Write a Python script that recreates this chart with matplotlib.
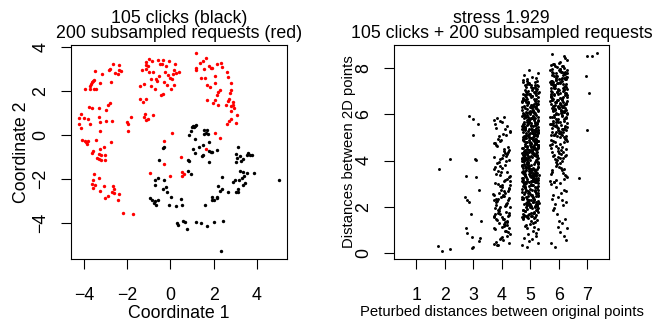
import numpy as np
import matplotlib.pyplot as plt

plt.rcParams['font.family'] = ['Liberation Sans', 'DejaVu Sans']

# ---- left panel: 2D coordinates ----
red_x = [-2.66, -2.36, -2.81, -2.84, -3.47, -2.39, -2.30, -2.56, -2.41, -3.15, -3.52, -3.58, -3.64, -3.69, -3.70,
         -3.27, -2.76, -3.95, -3.72, -3.54, -3.43,
         -0.99, -1.11, -1.11, -1.02, -1.30, -1.14, -1.00, -1.39, -1.24,
         -2.81, -2.87, -3.00, -3.32, -3.77, -3.61, -4.11, -4.21, -3.98, -3.80, -3.71, -3.31, -3.24, -2.96, -2.70,
         -4.21, -4.15, -3.27, -1.99, -1.96, -1.80, -1.96, -1.39, -1.14, -1.26, -1.18, -1.23, -1.11, -1.03,
         -4.07, -3.97, -3.89, -3.81, -3.86, -3.43, -2.75, -3.58, -3.63, -3.27, -3.07, -3.30, -3.20, -3.04, -3.38,
         -3.30, -3.20, -3.04, -3.54, -3.30, -3.56, -3.63, -3.50, -3.58, -3.27, -3.09, -2.66, -2.61, -2.72, -2.62,
         -2.39, -2.89, -3.02, -2.44, -2.19, -1.73, -0.96,
         -0.83, -0.57, -0.34, -0.08, -0.50, -0.40, -0.19, 0.23, 0.17, 0.40, -0.80, -0.26, -0.11, 0.12, 0.27,
         0.06, -0.03, -0.52, -0.91, -0.62, -0.31, -0.65, -0.88, -0.73, -0.15, 0.15, 0.03, -0.34, -0.42,
         1.17, 1.16, 1.16, 1.36, 1.51, 1.63, 1.54, 1.79, 1.87, 1.94, 2.13, 2.33, 2.36, 2.08, 1.40, 1.59, 2.59,
         2.64, 2.05, 1.71, 1.82, 2.78, 2.31, 2.20, 2.13, 2.82, 2.75, 2.07, 1.71, 1.98, 2.20, 2.70, 2.67, 2.87,
         2.90, 2.56, 2.82, 2.93,
         -0.80, 2.78, 3.08, 2.79, 2.71, 2.59, 3.02, 0.05, 2.07, 2.31, -0.31, -0.29, 0.48, 1.62, -0.03, 0.52,
         0.62, 0.53]
red_y = [3.24, 3.20, 3.00, 2.94, 2.92, 2.97, 2.92, 2.80, 2.76, 2.76, 2.51, 2.45, 2.39, 2.33, 2.24,
         2.36, 2.39, 2.09, 2.09, 2.09, 2.08,
         3.45, 3.30, 3.18, 3.12, 2.97, 3.00, 2.85, 2.24, 2.33,
         1.45, 1.35, 1.12, 1.24, 1.26, 1.21, 0.97, 0.77, 0.76, 0.73, 0.51, 0.82, 0.61, 0.64, 0.65,
         0.51, 0.30, 0.18, 0.58, 0.49, 0.82, 0.20, 1.64, 1.64, 1.50, 0.94, 0.82, 0.70, 0.73,
         -0.25, -0.29, -0.34, -0.26, -0.40, -0.23, -0.30, -0.74, -0.82, -0.62, -0.55, -0.85, -0.91, -0.90, -1.05,
         -1.09, -1.12, -1.15, -1.76, -1.94, -2.06, -2.23, -2.27, -2.41, -2.55, -2.32, -2.33, -2.44, -2.59, -2.64,
         -2.67, -2.79, -2.86, -2.94, -3.55, -3.58, -1.71,
         3.39, 3.42, 3.42, 3.39, 3.23, 3.23, 3.12, 3.24, 2.94, 2.86, 2.88, 2.88, 2.74, 2.78, 2.82,
         2.56, 2.59, 2.70, 2.54, 2.44, 2.39, 2.54, 2.21, 2.09, 2.29, 2.26, 2.11, 1.86, 1.80,
         3.75, 3.04, 2.94, 3.27, 3.39, 3.50, 3.01, 3.15, 3.07, 3.03, 3.21, 3.27, 3.09, 2.67, 2.59, 2.61, 2.85,
         2.64, 2.36, 2.26, 2.17, 2.36, 2.06, 1.94, 1.83, 2.06, 1.91, 1.60, 1.60, 1.45, 1.38, 1.64, 1.53, 1.50,
         1.38, 1.38, 1.30, 1.22,
         0.89, 1.07, 0.92, 0.73, 0.62, 0.48, 0.54, 0.09, 0.09, -0.13, -0.29, -1.30, -0.99, -0.65, -1.85, -1.70,
         -1.77, -1.86]

black_x = [1.02, 1.12, 1.17, 0.99, 1.08, 0.85, 0.93, 1.12, 1.54, 1.70, 1.56, 1.63, 1.74, 1.51, 1.76, 1.87,
           1.79, 1.94, 2.13, 1.33, 1.05, 1.12, 1.51, 1.48, 1.79, 0.80, 0.86, -0.31, -0.34, -0.54, 0.82, 0.94, 2.36,
           3.13, 3.02, 3.21, 3.08, 3.05, 3.36, 3.25, 3.59, 3.67, 3.75, 3.55, 3.22, 3.33, 3.39, 3.52, 3.29,
           3.18, 3.44, 3.33, 3.10, 3.02, 3.13, 2.99, 2.87, 2.67, 3.87, 5.00,
           -0.57, -0.70, -0.29, -0.70, -0.34, -0.19, -0.16, 0.01, -0.96, -0.85, -0.70, -0.57, -0.65, -0.77,
           -0.06, 0.24, 0.48, 0.54, 1.59, 1.94, 1.91, 2.00, 2.13, 2.17, 2.20, 2.30, 2.36,
           0.31, 0.35, 0.59, 0.69, 0.77, 1.20, 1.40, 1.70, 2.02, 2.44, 2.33]
black_y = [0.39, 0.43, 0.47, 0.35, 0.36, 0.01, 0.17, -0.17, 0.21, 0.21, 0.06, 0.09, 0.06, -0.47, -0.33, -0.79,
           -0.74, -0.79, -0.70, -0.55, -0.62, -0.82, -0.90, -0.97, -1.24, -1.12, -1.20, -0.55, -0.59, -1.15,
           -1.62, -1.76, -1.93,
           -0.55, -0.87, -0.97, -1.05, -1.23, -1.09, -1.20, -0.82, -0.90, -0.90, -0.90, -1.62, -1.67, -1.88,
           -1.73, -1.96, -2.03, -2.18, -2.26, -2.45, -2.59, -2.59, -2.03, -2.15, -2.59, -1.73, -2.03,
           -1.96, -2.06, -2.03, -2.27, -2.44, -2.36, -2.61, -2.82, -2.87, -2.94, -2.99, -2.97, -3.17, -3.09,
           -3.17, -3.24, -2.91, -3.17, -3.21, -2.82, -2.97, -2.94, -2.87, -2.83, -2.33, -2.53, -2.48,
           -4.00, -4.12, -3.90, -3.97, -4.30, -3.96, -3.99, -4.15, -3.96, -3.93, -5.30]

# ---- right panel: distances ----
col2_x = [1.79, 2.17, 1.77, 1.89, 2.18]
col2_y = [3.64, 4.08, 0.27, 0.06, 0.15]
col3_x = [2.84, 2.99, 3.17, 3.00, 3.05, 3.11, 2.74, 3.11, 3.19, 2.70, 2.76, 2.84, 2.92, 3.26, 2.74, 2.78,
          2.96, 3.23, 3.21, 2.99, 2.94]
col3_y = [5.94, 5.80, 5.58, 5.12, 4.08, 4.01, 3.32, 3.29, 2.74, 2.41, 2.28, 2.21, 1.66, 1.38, 1.09, 0.84,
          0.68, 0.65, 0.49, 0.26, 0.20]
col7_x = [7.01, 7.16, 7.34, 6.96, 7.07, 6.99, 6.70]
col7_y = [8.54, 8.54, 8.68, 7.68, 6.93, 5.31, 3.25]

jitter = [
    -0.12, 0.27, 0.05, -0.28, 0.19, -0.03, 0.22, -0.21, 0.11, -0.07, 0.29, -0.16, 0.02, 0.14, -0.25, 0.08, -0.10, 0.24, -0.19, 0.17,
    -0.01, -0.27, 0.12, 0.26, -0.14, 0.06, -0.23, 0.20, -0.05, 0.15, -0.29, 0.09, 0.23, -0.09, -0.18, 0.01, 0.28, -0.24, 0.13, -0.11,
    0.18, -0.26, 0.04, -0.15, 0.25, -0.08, 0.10, -0.20, 0.21, -0.02, 0.16, -0.30, 0.07, -0.13, 0.27, -0.06, 0.03, -0.22, 0.30, -0.17,
    0.11, -0.04, 0.24, -0.26, 0.00, 0.19, -0.12, 0.08, -0.28, 0.22, -0.09, 0.14, -0.19, 0.26, -0.01, 0.05, -0.24, 0.17, -0.07, 0.29,
    -0.15, 0.02, -0.21, 0.13, 0.25, -0.11, 0.07, -0.27, 0.20, -0.05, 0.10, -0.18, 0.28, -0.02, -0.23, 0.16, -0.08, 0.04, 0.23, -0.29,
    0.09, -0.20, 0.18, -0.06, 0.27, -0.14, 0.01, 0.21, -0.25, 0.12, -0.03, 0.26, -0.17, 0.06, -0.28, 0.15, -0.10, 0.29, -0.22, 0.03,
    -0.24, 0.10, -0.07, 0.20, -0.16, 0.28, -0.01, 0.14, -0.29, 0.07, 0.23, -0.12, 0.17, -0.20, 0.02, -0.26, 0.25, -0.09, 0.11, -0.04,
    0.22, -0.13, 0.29, -0.19, 0.06, -0.08, 0.16, -0.27, 0.09, 0.24, -0.02, -0.21, 0.13, -0.15, 0.28, 0.00, -0.11, 0.19, -0.25, 0.05,
    -0.06, 0.17, -0.23, 0.02, 0.26, -0.18, 0.12, -0.04, 0.21, -0.28, 0.08, -0.14, 0.30, -0.09, 0.15, -0.22, 0.04, 0.23, -0.16, 0.10,
    0.14, -0.29, 0.07, 0.25, -0.10, 0.19, -0.24, 0.03, -0.17, 0.28, -0.05, 0.11, -0.20, 0.22, -0.01, 0.16, -0.26, 0.06, -0.13, 0.27,
    -0.19, 0.04, 0.21, -0.08, -0.27, 0.13, 0.29, -0.15, 0.01, -0.22, 0.18, -0.03, 0.24, -0.12, 0.09, -0.30, 0.20, -0.06, 0.14, -0.25,
    0.26, -0.10, 0.03, -0.21, 0.17, -0.16, 0.10, 0.28, -0.07, 0.05, -0.26, 0.22, -0.13, 0.00, 0.19, -0.23, 0.12, -0.02, 0.27, -0.18,
    0.01, 0.23, -0.18, 0.15, -0.29, 0.08, -0.05, 0.26, -0.14, 0.19, -0.22, 0.04, 0.29, -0.11, 0.12, -0.27, 0.06, -0.19, 0.21, -0.08,
    -0.13, 0.20, -0.02, 0.09, -0.24, 0.27, -0.17, 0.05, 0.24, -0.09, 0.14, -0.28, 0.02, 0.18, -0.06, 0.25, -0.20, 0.11, -0.01, 0.16,
    0.07, -0.22, 0.28, -0.12, 0.13, -0.04, -0.26, 0.21, -0.15, 0.01, 0.26, -0.08, 0.16, -0.23, 0.10, -0.17, 0.29, -0.03, 0.18, -0.28,
    -0.09, 0.12, -0.25, 0.22, 0.04, -0.19, 0.15, -0.06, 0.27, -0.12, 0.08, 0.20, -0.27, 0.13, -0.04, 0.24, -0.14, 0.01, -0.21, 0.23,
    0.16, -0.03, 0.10, -0.23, 0.29, -0.09, 0.02, -0.18, 0.18, 0.06, -0.25, 0.14, -0.10, 0.27, -0.20, 0.09, -0.01, 0.22, -0.16, 0.04,
    -0.27, 0.25, -0.11, 0.06, -0.20, 0.17, -0.05, 0.23, -0.13, 0.00, 0.28, -0.24, 0.11, -0.07, 0.20, -0.15, 0.13, -0.29, 0.07, 0.19,
    0.02, -0.16, 0.22, -0.01, 0.14, -0.28, 0.26, -0.11, 0.05, -0.21, 0.17, 0.09, -0.18, 0.24, -0.06, 0.12, -0.23, 0.28, -0.10, 0.03,
    0.20, -0.07, -0.14, 0.27, -0.24, 0.10, -0.02, 0.16, -0.30, 0.21, -0.12, 0.07, 0.25, -0.17, 0.02, -0.09, 0.19, -0.26, 0.15, -0.05,
    -0.08, 0.18, 0.03, -0.19, 0.23, -0.13, 0.29, -0.03, 0.11, -0.26, 0.15, -0.10, 0.06, 0.21, -0.22, 0.26, -0.04, 0.13, -0.18, 0.08]

col4_y = [0.31, 0.42, 0.55, 0.38, 0.71, 0.64, 0.88, 0.47, 0.93, 0.59, 0.79, 0.35, 0.67, 0.96,
          1.02, 1.15, 1.27, 1.08, 1.44, 1.36, 1.53, 1.61, 1.19, 1.72, 1.85, 1.48, 1.93, 1.31, 1.66, 1.77,
          1.05, 1.24, 1.58, 1.89, 1.41, 1.12, 1.97, 1.69, 1.34, 1.81, 1.22, 1.55, 1.46, 1.74, 1.63, 1.99,
          2.03, 2.18, 2.29, 2.41, 2.12, 2.56, 2.67, 2.35, 2.78, 2.89, 2.47, 2.08, 2.94, 2.23, 2.61, 2.72,
          2.38, 2.51, 2.84, 2.15, 2.99, 2.44, 2.27, 2.69, 2.58, 2.06, 2.33, 2.81, 2.92, 2.49,
          3.04, 3.21, 3.37, 3.12, 3.55, 3.68, 3.43, 3.81, 3.27, 3.94, 3.09, 3.61, 3.48, 3.75, 3.16, 3.88,
          3.33, 3.52, 3.71, 3.98,
          4.05, 4.22, 4.38, 4.14, 4.51, 4.66, 4.29, 4.83, 4.47, 4.95, 4.11, 4.58, 4.74, 4.34, 4.89, 4.02,
          4.62, 4.43, 4.78, 4.19,
          5.07, 5.23, 5.41, 5.15, 5.58, 5.36, 5.72, 5.49, 5.84, 5.29, 5.66, 5.12, 5.78, 5.91]

col5_y = [0.26, 0.41, 0.58, 0.33, 0.72, 0.49, 0.87, 0.63, 0.95, 0.79,
          1.03, 1.21, 1.37, 1.12, 1.46, 1.29, 1.08, 1.41, 1.17, 1.33, 1.25, 1.49,
          1.52, 1.78, 1.61, 1.93, 1.57, 1.85, 1.69, 1.97, 1.54, 1.73, 1.88, 1.63, 1.81, 1.59, 1.95, 1.67,
          1.76, 1.91, 1.56, 1.84, 1.71, 1.99,
          2.03, 2.57, 2.21, 2.84, 2.46, 2.12, 2.69, 2.35, 2.92, 2.08, 2.74, 2.29, 2.51, 2.97, 2.16, 2.63,
          2.40, 2.88, 2.05, 2.33, 2.77, 2.58, 2.19, 2.94, 2.42, 2.11, 2.66, 2.27, 2.81, 2.49, 2.02, 2.71,
          2.37, 2.86, 2.24, 2.60, 2.14, 2.95, 2.53, 2.31, 2.79, 2.07, 2.45, 2.90, 2.18, 2.64, 2.38, 2.83,
          2.26, 2.55, 2.09, 2.72, 2.47, 2.99, 2.13,
          3.12, 3.69, 3.35, 3.92, 3.08, 3.74, 3.29, 3.51, 3.97, 3.16, 3.63, 3.40, 3.88, 3.05, 3.33, 3.77,
          3.58, 3.19, 3.94, 3.42, 3.11, 3.66, 3.27, 3.81, 3.49, 3.02, 3.71, 3.37, 3.86, 3.24, 3.60, 3.14,
          3.95, 3.53, 3.31, 3.79, 3.07, 3.45, 3.90, 3.18, 3.64, 3.38, 3.83, 3.26, 3.55, 3.09, 3.72, 3.47,
          3.99, 3.13, 3.61, 3.34, 3.87, 3.22, 3.68, 3.01, 3.44, 3.91, 3.17, 3.56, 3.36, 3.78, 3.06, 3.52,
          3.28, 3.85, 3.43, 3.10, 3.67, 3.32, 3.96, 3.20, 3.59, 3.39, 3.80,
          4.80, 4.39, 4.59, 4.20, 4.96, 4.32, 4.67, 4.10, 4.43, 4.85, 4.28, 4.52, 4.06, 4.78, 4.36, 4.56,
          4.17, 4.91, 4.44, 4.01, 4.68, 4.22, 4.87, 4.34, 4.61, 4.13, 4.99, 4.47, 4.72, 4.09, 4.55, 4.26,
          4.83, 4.38, 4.64, 4.18, 4.90, 4.45, 4.07, 4.79, 4.31, 4.53, 4.95, 4.14, 4.60, 4.24, 4.86, 4.37,
          4.71, 4.02, 4.49, 4.81, 4.27, 4.66, 4.11, 4.42, 4.94, 4.19, 4.58, 4.77, 4.33, 4.05, 4.88, 4.40,
          4.63, 4.16, 4.97, 4.51, 4.29, 4.74, 4.08, 4.92, 4.35, 4.69, 4.12, 4.46, 4.84, 4.21, 4.57, 4.03,
          5.77, 5.58, 5.19, 5.94, 5.42, 5.11, 5.66, 5.27, 5.81, 5.49, 5.02, 5.71, 5.37, 5.86, 5.24, 5.60,
          5.14, 5.95, 5.53, 5.31, 5.79, 5.07, 5.45, 5.90, 5.18, 5.64, 5.38, 5.83, 5.26, 5.55, 5.09, 5.72,
          5.47, 5.99, 5.13, 5.61, 5.34, 5.87, 5.22, 5.68, 5.01, 5.44, 5.91, 5.17, 5.56, 5.36, 5.78, 5.06,
          5.52, 5.28, 5.85, 5.43, 5.10, 5.67, 5.32, 5.96, 5.20, 5.59, 5.39, 5.80, 5.03, 5.57, 5.21, 5.84,
          5.46, 5.12, 5.69, 5.35, 5.92, 5.08, 5.74, 5.29, 5.51, 5.97, 5.16,
          6.79, 6.07, 6.45, 6.90, 6.18, 6.64, 6.38, 6.83, 6.26, 6.55, 6.09, 6.72, 6.47, 6.99, 6.13, 6.61,
          6.34, 6.87, 6.22, 6.68, 6.01, 6.44, 6.91, 6.17, 6.56, 6.36, 6.78, 6.06, 6.52, 6.28, 6.85, 6.43,
          6.10, 6.67, 6.32, 6.96, 6.20, 6.59, 6.39, 6.80, 6.03, 6.57, 6.21, 6.84, 6.46, 6.12, 6.69, 6.35,
          6.92, 6.08, 6.74, 6.29, 6.51, 6.97, 6.16, 6.63, 6.40, 6.88, 6.05, 6.33,
          7.02, 7.31, 7.15, 7.44, 7.07, 7.26, 7.38, 7.11, 7.49, 7.21, 7.34, 7.04, 7.42, 7.18, 7.29, 7.09,
          7.46, 7.24, 7.36, 7.13, 7.40, 7.27,
          7.52, 7.63, 7.58, 7.71, 7.78, 7.92]

col5_more_y = [1.51, 1.64, 1.79, 1.58, 1.87, 1.70, 1.96, 1.62, 1.83, 1.55,
               2.04, 2.36, 2.68, 2.15, 2.91, 2.43, 2.22, 2.77, 2.59, 2.10, 2.85, 2.32, 2.50, 2.96, 2.01, 2.65,
               2.28, 2.73, 2.44, 2.17,
               3.03, 3.41, 3.76, 3.19, 3.58, 3.89, 3.25, 3.47, 3.11, 3.65, 3.98, 3.35, 3.82, 3.06, 3.54, 3.29,
               3.71, 3.14, 3.93, 3.44, 3.62, 3.21, 3.85, 3.37, 3.50,
               4.04, 4.48, 4.73, 4.25, 4.91, 4.15, 4.62, 4.36, 4.82, 4.09, 4.54, 4.29, 4.97, 4.41, 4.67, 4.19,
               4.86, 4.33, 4.58, 4.06, 4.77, 4.44, 4.23, 4.95, 4.52,
               5.05, 5.44, 5.71, 5.23, 5.92, 5.34, 5.62, 5.15, 5.83, 5.48, 5.27, 5.76, 5.09, 5.57, 5.39, 5.88,
               5.19, 5.66, 5.31, 5.97, 5.53, 5.02,
               6.04, 6.41, 6.75, 6.23, 6.58, 6.92, 6.15, 6.49, 6.83, 6.31, 6.66, 6.09, 6.54, 6.97, 6.27,
               7.06, 7.19, 7.28]

col6_y = [0.26, 0.55, 0.89, 0.41, 0.72,
          1.12, 1.47, 1.83, 1.29, 1.66, 1.05, 1.94, 1.38,
          2.08, 2.35, 2.61, 2.87, 2.19, 2.52, 2.74, 2.43, 2.96, 2.27, 2.66, 2.13,
          3.03, 3.57, 3.21, 3.84, 3.46, 3.12, 3.69, 3.35, 3.92, 3.08, 3.74, 3.29, 3.51, 3.97, 3.16, 3.63,
          3.40, 3.88, 3.05, 3.33, 3.77, 3.58,
          4.19, 4.94, 4.42, 4.11, 4.66, 4.27, 4.81, 4.49, 4.02, 4.71, 4.37, 4.86, 4.24, 4.60, 4.14, 4.95,
          4.53, 4.31, 4.79, 4.07, 4.45, 4.90, 4.18, 4.64, 4.38, 4.83, 4.26, 4.55, 4.09, 4.72,
          5.79, 5.07, 5.45, 5.90, 5.18, 5.64, 5.38, 5.83, 5.26, 5.55, 5.09, 5.72, 5.47, 5.99, 5.13, 5.61,
          5.34, 5.87, 5.22, 5.68, 5.01, 5.44, 5.91, 5.17, 5.56, 5.36, 5.78, 5.06, 5.52, 5.28, 5.85, 5.43,
          5.10, 5.67, 5.32, 5.96, 5.20, 5.59, 5.39, 5.80,
          6.74, 6.29, 6.51, 6.97, 6.16, 6.63, 6.40, 6.88, 6.05, 6.33, 6.77, 6.58, 6.19, 6.94, 6.42, 6.11,
          6.66, 6.27, 6.81, 6.49, 6.02, 6.71, 6.37, 6.86, 6.24, 6.60, 6.14, 6.95, 6.53, 6.31, 6.79, 6.07,
          6.45, 6.90, 6.18, 6.64, 6.38, 6.83, 6.26, 6.55, 6.09, 6.72, 6.47, 6.99, 6.13, 6.61, 6.34, 6.87,
          6.22, 6.68, 6.01, 6.44, 6.91, 6.17, 6.56,
          7.81, 7.49, 7.02, 7.71, 7.37, 7.86, 7.24, 7.60, 7.14, 7.95, 7.53, 7.31, 7.79, 7.07, 7.45, 7.90,
          7.18, 7.64, 7.38, 7.83, 7.26, 7.55, 7.09, 7.72, 7.47, 7.99, 7.13, 7.61, 7.34, 7.87, 7.22, 7.68,
          7.01, 7.44, 7.91, 7.17, 7.56, 7.36, 7.78, 7.06, 7.52, 7.28, 7.85, 7.43, 7.10, 7.67, 7.32, 7.96,
          7.20, 7.59, 7.39, 7.80,
          8.03, 8.21, 8.12, 8.35, 8.07, 8.28, 8.16, 8.44, 8.09, 8.25, 8.52, 8.64]

col6_more_y = [5.04, 5.41, 5.73, 5.26, 5.89, 5.15, 5.58, 5.35, 5.81, 5.49, 5.12, 5.66, 5.22, 5.94, 5.53,
               6.03, 6.38, 6.71, 6.21, 6.93, 6.47, 6.12, 6.64, 6.29, 6.85, 6.56, 6.08, 6.77, 6.41, 6.96,
               6.18, 6.62, 6.33,
               7.05, 7.42, 7.76, 7.27, 7.93, 7.14, 7.58, 7.36, 7.84, 7.21, 7.67, 7.09, 7.49, 7.98, 7.31,
               8.11, 8.18]

jitter = np.array(jitter)
FS = 12.8
FS_SMALL = 10.7

fig = plt.figure(figsize=(6.56, 3.27), dpi=100)
W, H = 656, 327
ax1 = fig.add_axes([71.3 / W, 1 - 259.3 / H, 215.4 / W, 214.6 / H])
ax2 = fig.add_axes([394.3 / W, 1 - 259.3 / H, 215.0 / W, 214.6 / H])

ax1.scatter(red_x, red_y, s=6, c='#ff0000', linewidths=0)
ax1.scatter(black_x, black_y, s=6, c='black', linewidths=0)
ax1.set_xlim(-4.58, 5.37)
ax1.set_ylim(-5.66, 4.11)
ax1.set_xticks([-4, -2, 0, 2, 4])
ax1.set_yticks([-4, -2, 0, 2, 4])
ax1.set_title('105 clicks (black)\n200 subsampled requests (red)', fontsize=FS, linespacing=0.86, pad=4.8)
ax1.set_xlabel('Coordinate 1', fontsize=FS)
ax1.set_ylabel('Coordinate 2', fontsize=FS)
ax1.xaxis.set_label_coords(0.5, -0.213)
ax1.yaxis.set_label_coords(-0.193, 0.5)

s_r = 4.5
ax2.scatter(col2_x, col2_y, s=s_r, c='black', linewidths=0)
ax2.scatter(col3_x, col3_y, s=s_r, c='black', linewidths=0)
ax2.scatter(4 + jitter[:len(col4_y)], col4_y, s=s_r, c='black', linewidths=0)
ax2.scatter(5 + jitter[:len(col5_y)], col5_y, s=s_r, c='black', linewidths=0)
ax2.scatter(5 - jitter[100:100 + len(col5_more_y)], col5_more_y, s=s_r, c='black', linewidths=0)
ax2.scatter(6 + jitter[:len(col6_y)], col6_y, s=s_r, c='black', linewidths=0)
ax2.scatter(6 - jitter[200:200 + len(col6_more_y)], col6_more_y, s=s_r, c='black', linewidths=0)
ax2.scatter(col7_x, col7_y, s=s_r, c='black', linewidths=0)
ax2.set_xlim(0.22, 7.78)
ax2.set_ylim(-0.29, 9.03)
ax2.set_xticks(range(1, 8))
ax2.set_yticks([0, 2, 4, 6, 8])
ax2.set_title('stress 1.929\n105 clicks + 200 subsampled requests', fontsize=FS, linespacing=0.86, pad=4.8)
ax2.set_xlabel('Peturbed distances between original points', fontsize=FS_SMALL)
ax2.set_ylabel('Distances between 2D points', fontsize=FS_SMALL)
ax2.xaxis.set_label_coords(0.5, -0.213)
ax2.yaxis.set_label_coords(-0.18, 0.5)

for ax in (ax1, ax2):
    for sp in ax.spines.values():
        sp.set_linewidth(0.8)
    ax.tick_params(direction='out', length=7.2, width=0.8, labelsize=FS)
    ax.tick_params(axis='x', pad=12.5)
    ax.tick_params(axis='y', pad=8.5, labelrotation=90)
    for lab in ax.get_yticklabels():
        lab.set_va('center')

fig.savefig('out.png', dpi=100)
